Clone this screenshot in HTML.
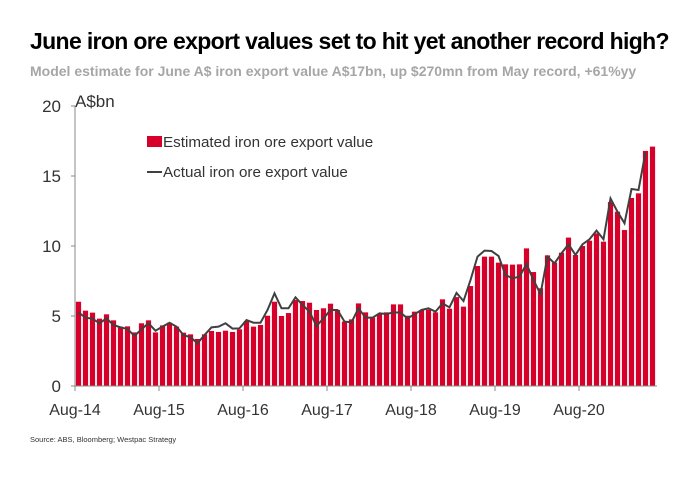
<!DOCTYPE html>
<html><head><meta charset="utf-8"><style>
body{margin:0;background:#fff;width:700px;height:485px;overflow:hidden;font-family:"Liberation Sans",Arial,sans-serif}
</style></head><body>
<svg width="700" height="485">
<text x="30" y="49" font-size="23" font-weight="bold" letter-spacing="-0.65" fill="#000">June iron ore export values set to hit yet another record high?</text>
<text x="30" y="76" font-size="14" font-weight="bold" fill="#a6a6a6">Model estimate for June A$ iron export value A$17bn, up $270mn from May record, +61%yy</text>
<text x="75" y="107" font-size="17" fill="#333">A$bn</text>
<g id="bars"></g>
<path id="line" fill="none" stroke="#404040" stroke-width="2"/>
<g id="axes"></g>
<rect x="147" y="136" width="15" height="11" fill="#d7002a"/>
<text x="163" y="147" font-size="15.2" fill="#333">Estimated iron ore export value</text>
<line x1="147" y1="172" x2="162" y2="172" stroke="#404040" stroke-width="2"/>
<text x="163" y="177" font-size="15.2" fill="#333">Actual iron ore export value</text>
<text x="30" y="442" font-size="7.5" fill="#333">Source: ABS, Bloomberg; Westpac Strategy</text>
</svg>
<script>
const estimated=[6.02,5.38,5.24,4.81,5.12,4.69,4.24,4.26,3.83,4.48,4.69,3.83,4.33,4.52,4.24,3.81,3.69,3.36,3.69,3.93,3.86,3.95,3.86,4.05,4.64,4.24,4.36,5.02,6.02,5.0,5.21,6.14,6.07,5.95,5.43,5.55,5.88,5.43,4.6,4.76,5.9,5.26,4.88,5.12,5.26,5.83,5.83,5.02,5.31,5.4,5.45,5.26,6.19,5.52,6.35,5.67,7.14,8.57,9.24,9.24,8.81,8.69,8.67,8.69,9.83,8.14,6.98,9.33,8.81,9.52,10.6,9.36,10.0,10.38,10.9,10.31,13.14,12.45,11.14,13.43,13.76,16.79,17.1];
const actual=[5.26,4.88,4.81,4.48,4.83,4.36,4.19,4.07,3.57,4.05,4.48,3.95,4.24,4.52,4.24,3.64,3.48,3.05,3.64,4.19,4.24,4.48,4.1,4.12,4.71,4.52,4.52,5.43,6.62,5.55,5.55,6.33,5.79,5.31,4.29,4.83,5.43,5.43,4.6,4.55,5.55,4.88,4.88,5.19,5.14,5.26,5.24,4.83,5.12,5.43,5.55,5.31,5.9,5.62,6.65,6.07,7.57,9.24,9.67,9.64,9.29,7.93,7.69,7.81,8.71,7.57,6.57,9.24,8.76,9.48,10.12,9.36,10.12,10.48,11.1,10.48,13.4,12.45,11.62,14.07,14.0,16.7];
const yTicks=[0,5,10,15,20];
const xLabels=["Aug-14","Aug-15","Aug-16","Aug-17","Aug-18","Aug-19","Aug-20"];
const NS="http://www.w3.org/2000/svg";
const x0=75,step=7,yb=386,yt=106,ymax=20;
const X=i=>x0+step*(i+0.5);
const Y=v=>yb-(v/ymax)*(yb-yt);
const bars=document.getElementById('bars');
estimated.forEach((v,i)=>{const r=document.createElementNS(NS,'rect');
r.setAttribute('x',X(i)-2.6);r.setAttribute('width',5.2);r.setAttribute('y',Y(v));r.setAttribute('height',yb-Y(v));r.setAttribute('fill','#d7002a');


bars.appendChild(r);});
document.getElementById('line').setAttribute('d',actual.map((v,i)=>(i?'L':'M')+X(i)+','+Y(v)).join(''));
const ax=document.getElementById('axes');
function el(t,a){const e=document.createElementNS(NS,t);for(const k in a)e.setAttribute(k,a[k]);ax.appendChild(e);return e;}
const yl=el('line',{x1:x0,y1:yt,x2:x0,y2:yb,stroke:'#888','stroke-width':1});


const xl=el('line',{x1:x0,y1:yb,x2:657,y2:yb,stroke:'#888','stroke-width':1});


yTicks.forEach(v=>{el('line',{x1:x0-4,y1:Y(v),x2:x0,y2:Y(v),stroke:'#888'});
const t=el('text',{x:61,y:Y(v)+6,'font-size':17,'text-anchor':'end',fill:'#333'});t.textContent=v;

});
xLabels.forEach((s,k)=>{const xx=x0+k*12*step;el('line',{x1:xx,y1:yb,x2:xx,y2:yb+5,stroke:'#888'});
const t=el('text',{x:xx,y:415,'font-size':16,'text-anchor':'middle',fill:'#333'});t.textContent=s;

});
</script>
</body></html>
